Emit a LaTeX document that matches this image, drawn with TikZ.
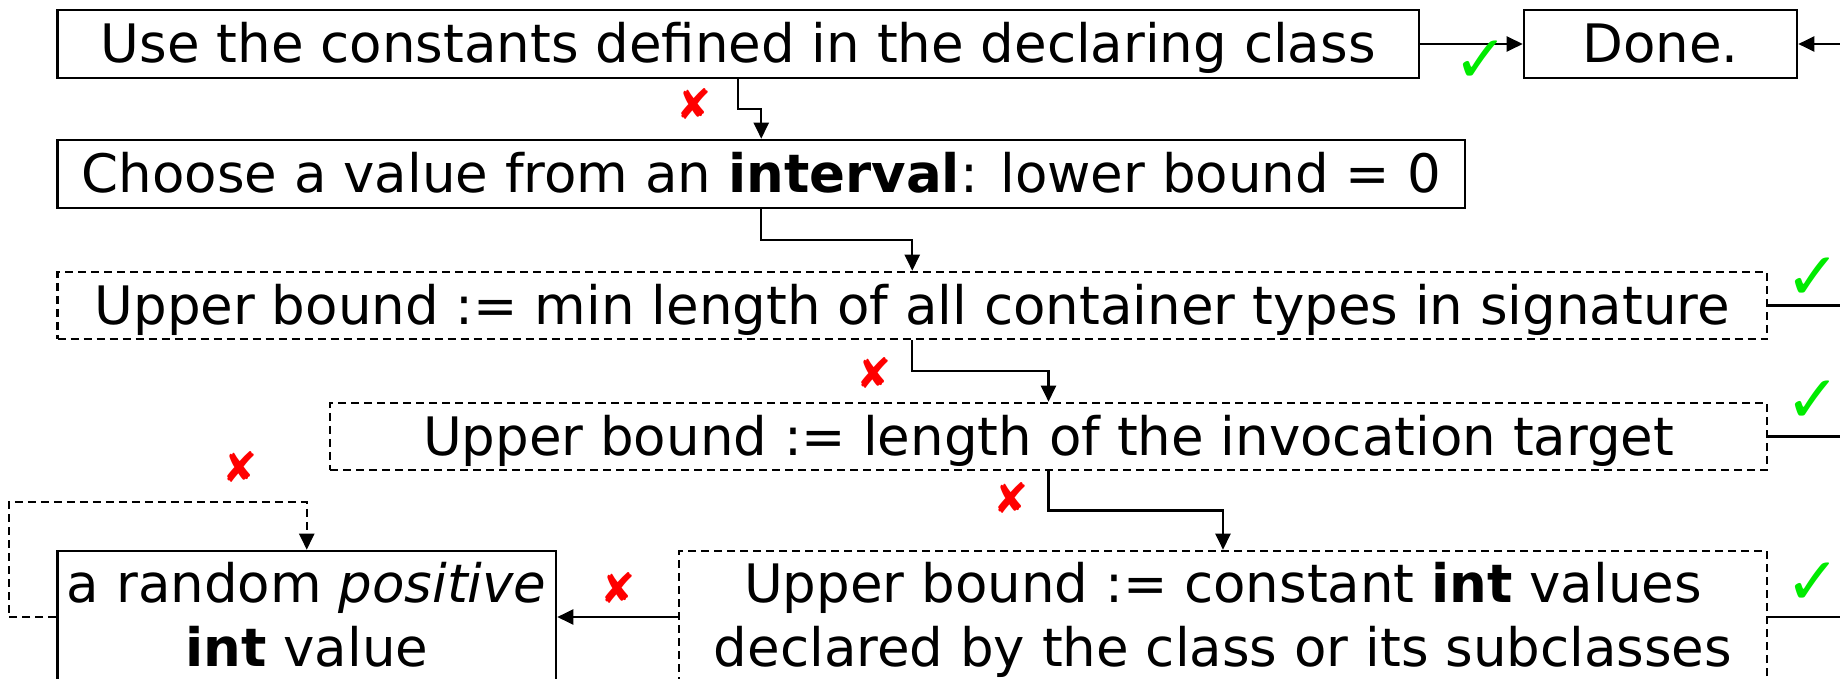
\documentclass[tikz,border=0pt]{standalone}
\usepackage{fontspec}
\setmainfont{DejaVu Sans}
\usetikzlibrary{arrows.meta,calc}
\definecolor{okgreen}{RGB}{0,235,0}
\definecolor{badred}{RGB}{255,0,0}
\tikzset{
  box/.style={draw, line width=1.3pt, inner xsep=0pt, inner ysep=0pt, font=\fontsize{26.5pt}{32pt}\selectfont},
  onebox/.style={box, text height=19pt, text depth=0pt},
  dbox/.style={dash pattern=on 4pt off 2.5pt},
  conn/.style={line width=1.1pt},
  arr/.style={conn, -{Triangle[length=8pt,width=7.5pt]}},
  dconn/.style={arr, dash pattern=on 4pt off 2.5pt},
  yes/.style={text=okgreen, font=\fontsize{33pt}{33pt}\selectfont, inner sep=0pt},
  no/.style={text=badred, font=\fontsize{21pt}{21pt}\selectfont, inner sep=0pt},
}
\begin{document}
\begin{tikzpicture}[x=0.5pt,y=-0.5pt]
\useasboundingbox (0,0) rectangle (1840,679);
\clip (0,0) rectangle (1840,679);
% boxes
\node[onebox, minimum width=680.75pt, minimum height=34pt] (b1) at (738.25,44) {Use the constants defined in the declaring class};
\node[onebox, minimum width=136.5pt, minimum height=34pt] (done) at (1660.5,44) {Done.};
\node[onebox, minimum width=703.75pt, minimum height=34pt] (b2) at (761.25,174) {Choose a value from an \textbf{interval}: lower bound = 0};
\node[onebox, dbox, minimum width=854.75pt, minimum height=33.5pt] (b3) at (912.25,305.5) {Upper bound := min length of all container types in signature};
\node[onebox, dbox, minimum width=718.5pt, minimum height=33.5pt] (b4) at (1048.5,436.5) {Upper bound := length of the invocation target};
\node[box, dbox, align=center, minimum width=544pt, minimum height=71pt] (b5) at (1223,622) {\strut Upper bound := constant \textbf{int} values\\\strut declared by the class or its subclasses};
\node[box, align=center, minimum width=249.25pt, minimum height=71pt] (b6) at (306.75,622) {\strut a random \textit{positive}\\\strut \textbf{int} value};
% connectors
\draw[arr] (b1.east) -- (done.west);
\draw[arr] (b1.south) |- ($(b1.south)!0.5!(b2.north)$) -| (b2.north);
\draw[arr] (b2.south) |- ($(b2.south)!0.5!(b3.north)$) -| (b3.north);
\draw[arr] (b3.south) |- ($(b3.south)!0.5!(b4.north)$) -| (b4.north);
\draw[arr] (b4.south) |- ($(b4.south)!0.5!(b5.north)$) -| (b5.north);
\draw[arr] ([yshift=2.5pt]b5.west) -- ([yshift=2.5pt]b6.east);
\draw[dconn] ([yshift=2.5pt]b6.west) -- ++(-47.5,0) |- ($(b6.north)+(0,-48)$) -- (b6.north);
\coordinate (bus) at (1900,44);
\draw[conn] (b3.east) -- (b3.east -| bus);
\draw[conn] (b4.east) -- (b4.east -| bus);
\draw[conn] ([yshift=2.5pt]b5.east) -- ([yshift=2.5pt]b5.east -| bus) -- (bus);
\draw[arr] (bus) -- (done.east);
% marks
\node[yes] (k0) at (1481,62) {✓};
\node[yes] (k3) at (1813,279) {✓};
\node[yes] (k4) at (1813,402) {✓};
\node[yes] (k5) at (1813,584) {✓};
\node[no] (x1) at (694,104) {✘};
\node[no] (x3) at (874,372.5) {✘};
\node[no] (x4) at (1011,497.5) {✘};
\node[no] (x5) at (617.6,588) {✘};
\node[no] (x6) at (240,467) {✘};
\end{tikzpicture}
\end{document}
